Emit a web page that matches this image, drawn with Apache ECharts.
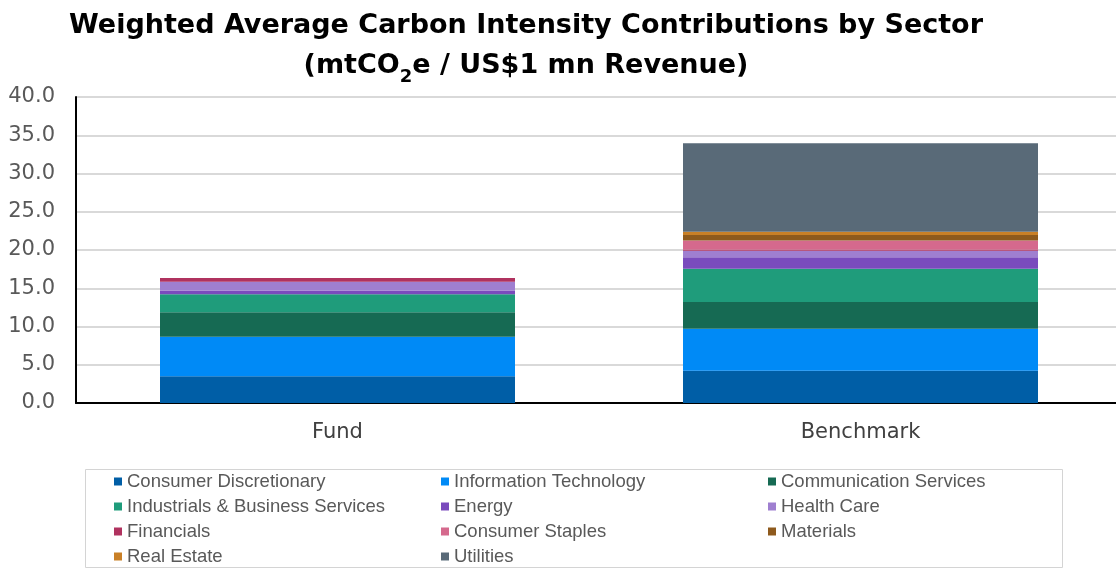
<!DOCTYPE html>
<html>
<head>
<meta charset="utf-8">
<script src="https://cdn.jsdelivr.net/npm/echarts@6/dist/echarts.min.js"></script>
<style>
  html, body { margin: 0; padding: 0; background: #fff; overflow: hidden; width: 1116px; height: 570px; }
  /* canvas is a little wider than the window so the plot area can run to the right edge */
  #chart { width: 1130px; height: 570px; }
</style>
</head>
<body>
<div id="chart"></div>
<script>
// Portfolios on the x axis
const categories = ['Fund', 'Benchmark'];

// Sector contributions to WACI (mtCO2e / US$1 mn revenue): [Fund, Benchmark]
const consumerDiscretionary = [3.5, 4.2];
const informationTechnology = [5.15, 5.5];
const communicationServices = [3.2, 3.5];
const industrialsBusiness = [2.35, 4.35];
const energy = [0.5, 1.5];
const healthCare = [1.15, 0.85];
const financials = [0.5, 0.15];
const consumerStaples = [0.0, 1.2];
const materials = [0.0, 0.7];
const realEstate = [0.0, 0.45];
const utilities = [0.0, 11.55];

const yTicks = ['0.0', '5.0', '10.0', '15.0', '20.0', '25.0', '30.0', '35.0', '40.0'];

const sectors = [
  { name: 'Consumer Discretionary', data: consumerDiscretionary, color: '#005ea6' },
  { name: 'Information Technology', data: informationTechnology, color: '#008af6' },
  { name: 'Communication Services', data: communicationServices, color: '#166a53' },
  { name: 'Industrials & Business Services', data: industrialsBusiness, color: '#1f9c7b' },
  { name: 'Energy', data: energy, color: '#7a4bbd' },
  { name: 'Health Care', data: healthCare, color: '#9f7fd0' },
  { name: 'Financials', data: financials, color: '#b0325f' },
  { name: 'Consumer Staples', data: consumerStaples, color: '#d5698d' },
  { name: 'Materials', data: materials, color: '#8e5a1d' },
  { name: 'Real Estate', data: realEstate, color: '#c98027' },
  { name: 'Utilities', data: utilities, color: '#596a78' }
];

const legendColumns = [
  ['Consumer Discretionary', 'Industrials & Business Services', 'Financials', 'Real Estate'],
  ['Information Technology', 'Energy', 'Consumer Staples', 'Utilities'],
  ['Communication Services', 'Health Care', 'Materials']
];

const SANS = '"Liberation Sans", Arial, sans-serif';
const WIDE = '"DejaVu Sans", Verdana, sans-serif';
const chart = echarts.init(document.getElementById('chart'), null, { renderer: 'canvas' });

const legendLeft = [114, 441, 768];
const legends = legendColumns.map((col, i) => ({
  orient: 'vertical',
  left: legendLeft[i],
  top: 472,
  height: 120,
  itemGap: 6,
  itemWidth: 8,
  itemHeight: 8,
  icon: 'rect',
  padding: 0,
  selectedMode: false,
  data: col,
  textStyle: { fontFamily: SANS, fontSize: 18.5, color: '#595959', padding: [0, 0, 0, 0] }
}));

chart.setOption({
  animation: false,
  backgroundColor: '#ffffff',
  title: {
    text: 'Weighted Average Carbon Intensity Contributions by Sector\n{p|(mtCO}{s|2}{p|e / US$1 mn Revenue)}',
    left: 521,
    top: 1,
    textAlign: 'center',
    textStyle: {
      fontFamily: WIDE,
      fontSize: 27,
      fontWeight: 'bold',
      color: '#000',
      lineHeight: 40,
      rich: {
        p: { fontFamily: WIDE, fontSize: 27, fontWeight: 'bold', color: '#000', lineHeight: 40 },
        s: { fontFamily: WIDE, fontSize: 18, fontWeight: 'bold', color: '#000', verticalAlign: 'bottom', padding: [12, 0, 0, 0], lineHeight: 40 }
      }
    }
  },
  legend: legends,
  graphic: [{
    type: 'rect',
    shape: { x: 85.5, y: 469.5, width: 977, height: 98 },
    style: { fill: 'none', stroke: '#d4d4d4', lineWidth: 1 },
    silent: true
  }],
  grid: { left: 76, top: 97, width: 1046, height: 306, containLabel: false },
  xAxis: {
    type: 'category',
    data: categories,
    axisLine: { lineStyle: { color: '#000', width: 2 } },
    axisTick: { show: false },
    axisLabel: { fontFamily: WIDE, fontSize: 21, color: '#404040', margin: 19 }
  },
  yAxis: {
    type: 'value',
    min: 0,
    max: 40,
    interval: 5,
    axisLine: { show: true, lineStyle: { color: '#000', width: 2 } },
    axisTick: { show: false },
    splitLine: { lineStyle: { color: '#d9d9d9', width: 2 } },
    axisLabel: {
      fontFamily: WIDE, fontSize: 21, color: '#595959', margin: 21,
      lineHeight: 21,
      padding: [5, 0, 0, 0],
      formatter: (v) => yTicks[Math.round(v / 5)]
    }
  },
  series: sectors.map(s => ({
    name: s.name,
    type: 'bar',
    stack: 'total',
    data: s.data,
    barWidth: 355,
    itemStyle: { color: s.color },
    emphasis: { disabled: true }
  }))
});
</script>
</body>
</html>
